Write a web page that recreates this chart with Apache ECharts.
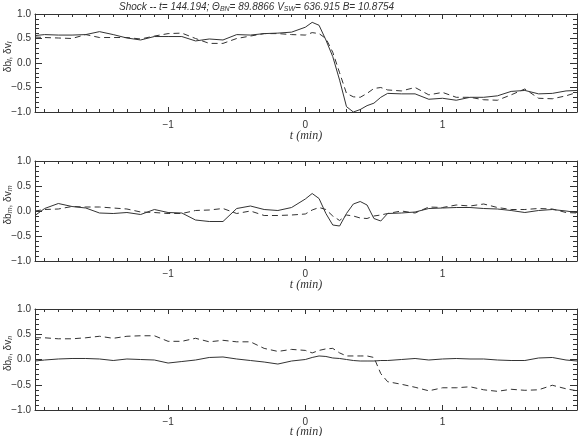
<!DOCTYPE html>
<html>
<head>
<meta charset="utf-8">
<script src="https://cdn.jsdelivr.net/npm/echarts@6/dist/echarts.min.js"></script>
<style>
  html, body { margin: 0; padding: 0; background: #fff; }
  #chart { width: 578px; height: 436px; }
</style>
</head>
<body>
<div id="chart"></div>
<script>
// time axis (minutes from shock)
const t = [-1.97, -1.9, -1.8, -1.7, -1.6, -1.5, -1.4, -1.3, -1.2, -1.1, -1.0, -0.9, -0.8, -0.7, -0.6,
  -0.5, -0.4, -0.3, -0.2, -0.1, 0, 0.05, 0.1, 0.15, 0.2, 0.25, 0.3, 0.35, 0.4, 0.45, 0.5, 0.55, 0.6,
  0.7, 0.8, 0.9, 1.0, 1.1, 1.2, 1.3, 1.4, 1.5, 1.6, 1.7, 1.8, 1.9, 1.98];

// l component: solid = db, dashed = dv
const bL = [0.56, 0.58, 0.57, 0.57, 0.58, 0.64, 0.58, 0.51, 0.47, 0.54, 0.54, 0.54, 0.45, 0.49, 0.47,
  0.58, 0.57, 0.6, 0.61, 0.63, 0.73, 0.83, 0.77, 0.47, 0.13, -0.35, -0.89, -1.0, -0.95, -0.87, -0.82, -0.7, -0.62,
  -0.63, -0.63, -0.74, -0.72, -0.76, -0.7, -0.7, -0.67, -0.58, -0.56, -0.63, -0.62, -0.57, -0.56];
const vL = [0.53, 0.52, 0.51, 0.5, 0.58, 0.52, 0.52, 0.52, 0.49, 0.55, 0.6, 0.61, 0.5, 0.4, 0.4,
  0.5, 0.55, 0.6, 0.6, 0.58, 0.57, 0.62, 0.6, 0.5, 0.22, -0.2, -0.62, -0.69, -0.7, -0.62, -0.52, -0.5, -0.55,
  -0.57, -0.5, -0.65, -0.6, -0.7, -0.7, -0.75, -0.76, -0.65, -0.53, -0.72, -0.73, -0.67, -0.6];

// m component
const bM = [-0.09, 0.05, 0.15, 0.09, 0.06, -0.04, -0.05, -0.03, -0.07, 0.03, -0.03, -0.04, -0.18, -0.21, -0.21,
  0.05, 0.1, 0.03, 0.01, 0.07, 0.24, 0.35, 0.25, -0.05, -0.28, -0.3, -0.05, 0.14, 0.19, 0.12, -0.15, -0.2, -0.05,
  -0.04, -0.02, 0.05, 0.06, 0.07, 0.07, 0.05, 0.04, 0.01, -0.03, 0.01, 0.03, 0, -0.03];
const vM = [0, 0.03, 0.04, 0.09, 0.08, 0.08, 0.06, 0.04, -0.02, -0.03, -0.05, -0.05, 0.01, 0.02, 0.05,
  -0.05, 0, -0.09, -0.09, -0.08, -0.06, 0.02, 0.07, 0.03, -0.1, -0.19, -0.08, -0.1, -0.14, -0.15, -0.1, -0.08, -0.05,
  0, -0.04, 0.08, 0.07, 0.12, 0.1, 0.14, 0.07, 0.03, 0.03, 0.05, 0.04, -0.03, -0.04];

// n component
const bN = [-0.03, -0.01, 0.01, 0.02, 0.02, 0.01, -0.02, 0.01, 0, -0.01, -0.07, -0.04, -0.01, 0.04, 0.05,
  0.01, -0.02, -0.05, -0.09, -0.03, 0, 0.04, 0.07, 0.06, 0.03, 0.02, 0, -0.02, -0.03, -0.03, -0.03, -0.02, -0.02,
  0, 0.02, -0.01, 0.01, 0.02, 0.01, 0.01, -0.01, -0.02, -0.02, 0.03, 0.04, -0.01, -0.03];
const vN = [0.43, 0.43, 0.41, 0.41, 0.43, 0.46, 0.42, 0.46, 0.47, 0.47, 0.36, 0.36, 0.42, 0.35, 0.38,
  0.35, 0.35, 0.22, 0.16, 0.2, 0.18, 0.13, 0.18, 0.21, 0.22, 0.13, 0.07, 0.07, 0.07, 0.07, 0.04, -0.28, -0.44,
  -0.49, -0.55, -0.62, -0.56, -0.56, -0.54, -0.6, -0.63, -0.59, -0.61, -0.6, -0.51, -0.58, -0.62];

const xMajor = [-1, 0, 1];
const yNames = [
  '{n|δb}{s|l}{n|, δv}{s|l}',
  '{n|δb}{s|m}{n|, δv}{s|m}',
  '{n|δb}{s|n}{n|, δv}{s|n}'
];
const panels = [[bL, vL], [bM, vM], [bN, vN]];

const XMIN = -1.97, XMAX = 1.98;
const xMinor = [];
for (let k = -19; k <= 19; k++) xMinor.push(k / 10);

const ink = '#333';
const tickFont = { fontFamily: "'Liberation Sans', sans-serif", fontSize: 10, color: ink };
const boxes = [
  { top: 14, height: 98, gap: 18, margin: 8 },
  { top: 161, height: 100, gap: 18, margin: 8 },
  { top: 309, height: 101, gap: 16, margin: 7 }
];

const minus = s => s.replace('-', '\u2212');
const border = { show: true, onZero: false, lineStyle: { color: ink, width: 1 } };
const hidden = { show: false, onZero: false };

const grid = [], xAxis = [], yAxis = [], series = [];
boxes.forEach((b, i) => {
  grid.push({ left: 35, right: 1, top: b.top, height: b.height, outerBoundsMode: 'none' });
  const base = { gridIndex: i, type: 'value', min: XMIN, max: XMAX, splitLine: { show: false } };
  // bottom: line + labels + major ticks
  xAxis.push(Object.assign({}, base, {
    position: 'bottom', axisLine: border,
    axisTick: { show: true, inside: true, length: 5, customValues: xMajor, lineStyle: { color: ink } },
    axisLabel: { customValues: xMajor, margin: b.margin, formatter: v => minus(String(v)), ...tickFont },
    name: 't (min)', nameLocation: 'middle', nameGap: b.gap, nameMoveOverlap: false,
    nameTextStyle: { fontFamily: "'Liberation Serif', serif", fontStyle: 'italic', fontSize: 12, color: ink }
  }));
  // bottom minor ticks
  xAxis.push(Object.assign({}, base, {
    position: 'bottom', axisLine: hidden,
    axisTick: { show: true, inside: true, length: 3, customValues: xMinor, lineStyle: { color: ink } },
    axisLabel: { show: false }
  }));
  // top border + ticks
  xAxis.push(Object.assign({}, base, {
    position: 'top', axisLine: border,
    axisTick: { show: true, inside: true, length: 5, customValues: xMajor, lineStyle: { color: ink } },
    axisLabel: { show: false }
  }));
  xAxis.push(Object.assign({}, base, {
    position: 'top', axisLine: hidden,
    axisTick: { show: true, inside: true, length: 3, customValues: xMinor, lineStyle: { color: ink } },
    axisLabel: { show: false }
  }));

  const ybase = {
    gridIndex: i, type: 'value', min: -1, max: 1, interval: 0.5, splitLine: { show: false },
    axisLine: border,
    axisTick: { show: true, inside: true, length: 7, lineStyle: { color: ink } },
    minorTick: { show: true, splitNumber: 5, length: 4, lineStyle: { color: ink } }
  };
  yAxis.push(Object.assign({}, ybase, {
    position: 'left',
    axisLabel: { margin: 4, formatter: v => minus(v.toFixed(1)), ...tickFont },
    name: yNames[i], nameLocation: 'middle', nameGap: 21, nameRotate: 90, nameMoveOverlap: false,
    nameTextStyle: {
      color: ink, fontSize: 10, padding: [0, 0, 0, 12],
      rich: {
        n: { fontFamily: "'Liberation Sans', sans-serif", fontSize: 10, color: ink },
        s: { fontFamily: "'Liberation Sans', sans-serif", fontSize: 7, fontStyle: 'italic', color: ink, padding: [5, 0, 0, 0] }
      }
    }
  }));
  yAxis.push(Object.assign({}, ybase, { position: 'right', axisLabel: { show: false } }));

  const [solid, dashed] = panels[i];
  series.push({
    type: 'line', xAxisIndex: i * 4, yAxisIndex: i * 2, symbol: 'none', animation: false,
    data: t.map((x, k) => [x, solid[k]]), lineStyle: { color: '#333', width: 1 }
  });
  series.push({
    type: 'line', xAxisIndex: i * 4, yAxisIndex: i * 2, symbol: 'none', animation: false,
    data: t.map((x, k) => [x, dashed[k]]), lineStyle: { color: '#333', width: 1, type: [6, 4] }
  });
});

const chart = echarts.init(document.getElementById('chart'));
chart.setOption({
  backgroundColor: '#fff',
  animation: false,
  title: {
    text: '{i|Shock -- t= 144.194; Θ}{s|BN}{i|= 89.8866 V}{s|SW}{i|= 636.915 B= 10.8754}',
    left: 114, top: -3,
    textStyle: {
      fontWeight: 'normal',
      rich: {
        i: { fontFamily: "'Liberation Sans', sans-serif", fontStyle: 'italic', fontWeight: 'normal', fontSize: 10, color: ink },
        s: { fontFamily: "'Liberation Sans', sans-serif", fontStyle: 'italic', fontWeight: 'normal', fontSize: 7, color: ink, padding: [4, 0, 0, 0] }
      }
    }
  },
  grid, xAxis, yAxis, series
});
</script>
</body>
</html>
